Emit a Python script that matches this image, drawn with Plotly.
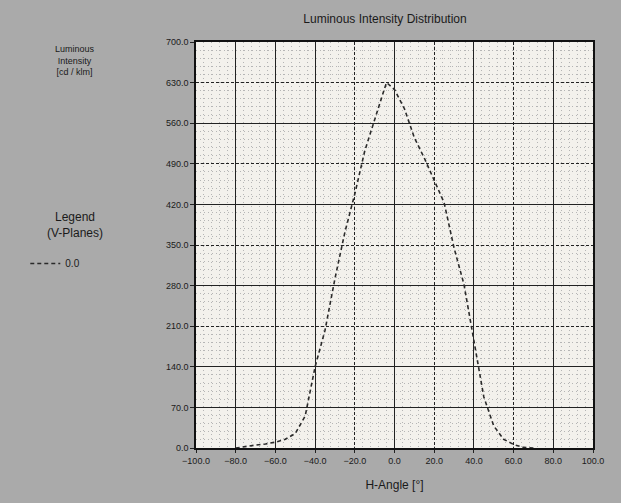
import plotly.graph_objects as go

# H-angle (degrees) and luminous intensity (cd/klm) for the 0.0 V-plane
h_angle = [-80, -75, -70, -65, -60, -55, -50, -45, -40, -35, -30, -25, -20,
           -15, -10, -5, -4, 0, 5, 10, 15, 20, 25, 30, 35, 40, 45, 50, 55, 60,
           65, 70]
intensity = [0, 3, 5, 7, 10, 15, 25, 55, 140, 203, 292, 372, 438,
             512, 568, 620, 630, 618, 585, 535, 500, 463, 423, 345, 282, 185, 88,
             38, 15, 6, 1, 0]
plane_name = "0.0"

x_ticks = [-100, -80, -60, -40, -20, 0, 20, 40, 60, 80, 100]
y_ticks = [0, 70, 140, 210, 280, 350, 420, 490, 560, 630, 700]
x_solid = [-80, -60, -40, 0, 40, 80]
x_dashed = [-20, 20, 60]
y_solid = [70, 140, 280, 420, 560]
y_dashed = [210, 350, 490, 630]

X_RANGE = [-100, 100]
Y_RANGE = [0, 700]
FONT = "Liberation Sans"
BG = "#aaaaaa"
PLOT_BG = "#f3f1ec"

fig = go.Figure()

fig.add_trace(go.Scatter(
    x=h_angle, y=intensity, mode="lines", name=plane_name,
    line=dict(color="#2a2a2a", width=1.6, dash="4px,3px"),
))

# empty traces so the overlay grid axes are rendered
fig.add_trace(go.Scatter(x=[None], y=[None], xaxis="x2", yaxis="y2",
                         showlegend=False, hoverinfo="skip"))
fig.add_trace(go.Scatter(x=[None], y=[None], xaxis="x3", yaxis="y3",
                         showlegend=False, hoverinfo="skip"))

axis_common = dict(showline=False, zeroline=False, fixedrange=True)
minor_grid = dict(showgrid=True, griddash="1px,3px", gridcolor="#b5b5b5",
                  gridwidth=1)

fig.update_layout(
    width=621, height=503,
    paper_bgcolor=BG, plot_bgcolor=PLOT_BG,
    margin=dict(l=196, r=28, t=42, b=55),
    font=dict(family=FONT, size=9, color="#1a1a1a"),
    title=dict(text="Luminous Intensity Distribution", x=0.62, xanchor="center",
               y=0.962, yanchor="middle", font=dict(size=12, color="#1a1a1a")),
    xaxis=dict(
        range=X_RANGE, tickmode="array", tickvals=x_ticks,
        tickformat=".1f", showgrid=False,
        ticks="outside", ticklen=3, tickcolor="#222",
        showline=True, linecolor="#111", linewidth=1.5, mirror=True,
        minor=dict(tickmode="linear", tick0=-100, dtick=4, **minor_grid),
        title=dict(text="H-Angle [°]", font=dict(size=12), standoff=16),
        tickfont=dict(size=9), zeroline=False, fixedrange=True,
    ),
    yaxis=dict(
        range=Y_RANGE, tickmode="array", tickvals=y_ticks,
        tickformat=".1f", showgrid=False,
        ticks="outside", ticklen=4, tickcolor="#222",
        showline=True, linecolor="#111", linewidth=1.5, mirror=True,
        minor=dict(tickmode="linear", tick0=0, dtick=14, **minor_grid),
        tickfont=dict(size=9), zeroline=False, fixedrange=True,
    ),
    xaxis2=dict(range=X_RANGE, overlaying="x", tickmode="array",
                tickvals=x_solid, showticklabels=False, ticks="",
                showgrid=True, gridcolor="#222", gridwidth=1.4, **axis_common),
    yaxis2=dict(range=Y_RANGE, overlaying="y", tickmode="array",
                tickvals=y_solid, showticklabels=False, ticks="",
                showgrid=True, gridcolor="#222", gridwidth=1.4, **axis_common),
    xaxis3=dict(range=X_RANGE, overlaying="x", tickmode="array",
                tickvals=x_dashed, showticklabels=False, ticks="",
                showgrid=True, gridcolor="#222", gridwidth=1.4,
                griddash="3px,2px", **axis_common),
    yaxis3=dict(range=Y_RANGE, overlaying="y", tickmode="array",
                tickvals=y_dashed, showticklabels=False, ticks="",
                showgrid=True, gridcolor="#222", gridwidth=1.4,
                griddash="3px,2px", **axis_common),
    legend=dict(x=-0.43, y=0.49, xanchor="left", yanchor="top",
                bgcolor="rgba(0,0,0,0)", font=dict(size=10),
                itemwidth=30, tracegroupgap=0),
    showlegend=True,
)

# y-axis caption and legend heading in the left margin
fig.add_annotation(text="Luminous<br>Intensity<br>[cd / klm]",
                   xref="paper", yref="paper", x=-0.305, y=1.0,
                   xanchor="center", yanchor="top", showarrow=False,
                   font=dict(size=9, color="#1a1a1a"), align="center")
fig.add_annotation(text="Legend<br>(V-Planes)",
                   xref="paper", yref="paper", x=-0.305, y=0.59,
                   xanchor="center", yanchor="top", showarrow=False,
                   font=dict(size=12, color="#1a1a1a"), align="center")

fig.write_html("out.html")
